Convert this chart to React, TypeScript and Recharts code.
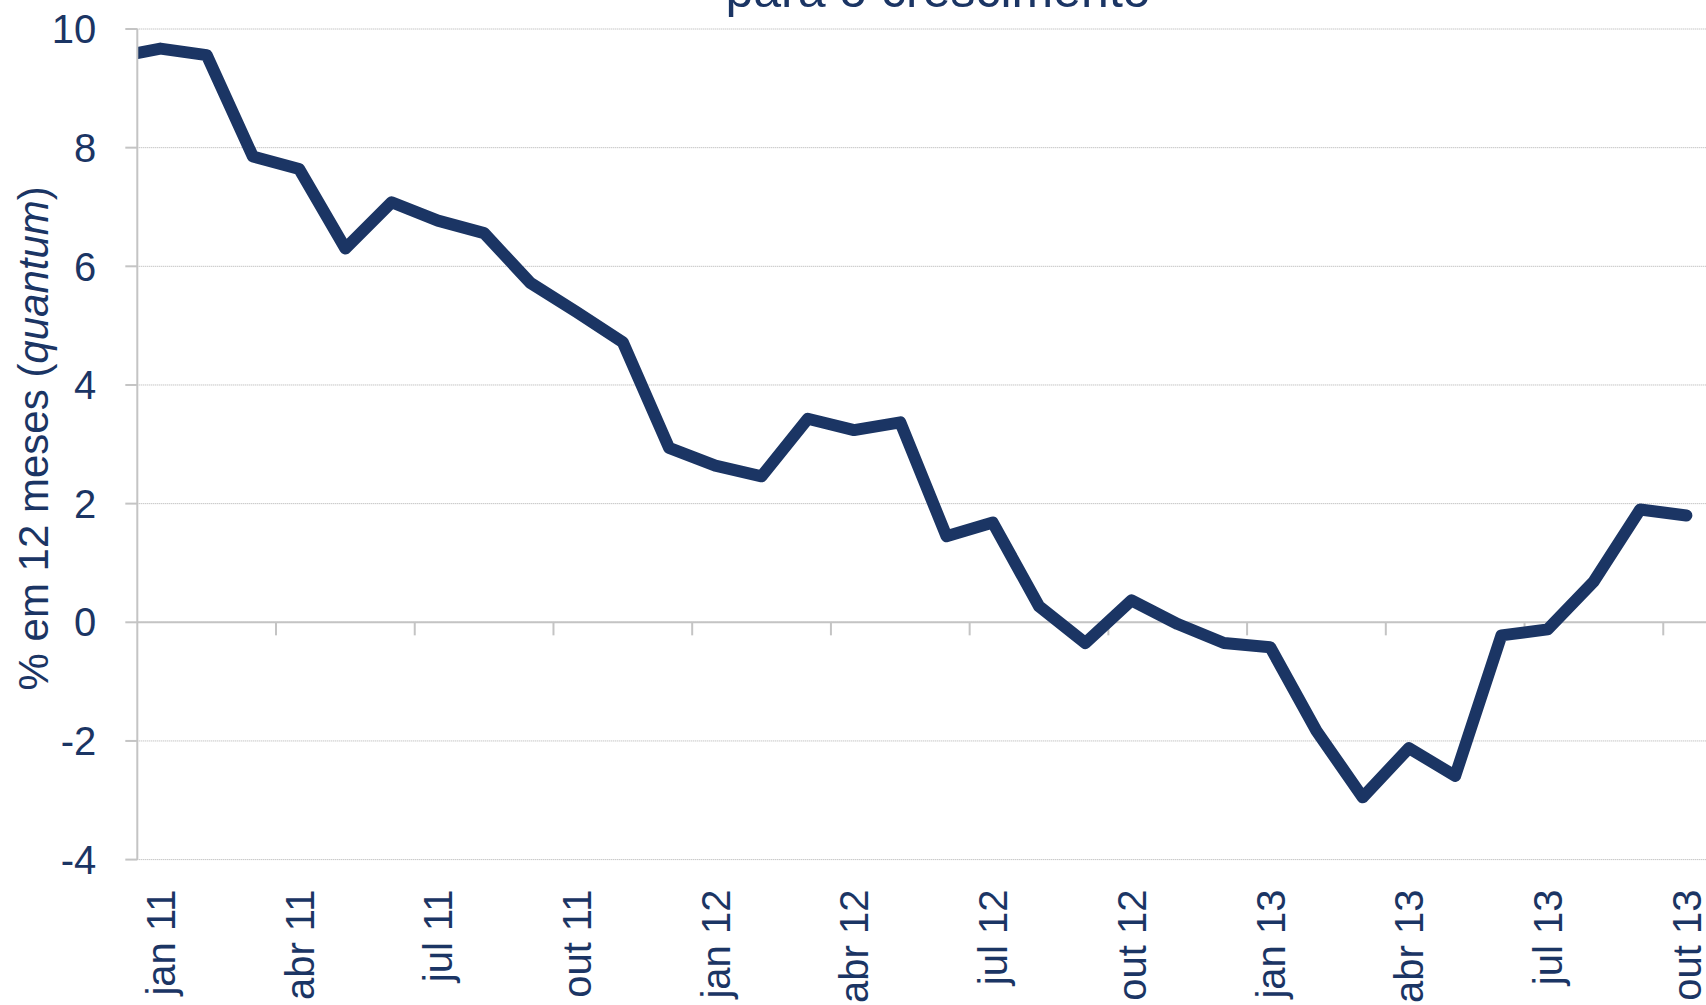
import React from 'react';
import { LineChart, Line, XAxis, YAxis, CartesianGrid, ReferenceLine, Label } from 'recharts';

const months = [
  'dez 10', 'jan 11', 'fev 11', 'mar 11', 'abr 11', 'mai 11', 'jun 11', 'jul 11', 'ago 11', 'set 11', 'out 11', 'nov 11',
  'dez 11', 'jan 12', 'fev 12', 'mar 12', 'abr 12', 'mai 12', 'jun 12', 'jul 12', 'ago 12', 'set 12', 'out 12', 'nov 12',
  'dez 12', 'jan 13', 'fev 13', 'mar 13', 'abr 13', 'mai 13', 'jun 13', 'jul 13', 'ago 13', 'set 13', 'out 13',
];

const values = [
  9.52, 9.67, 9.56, 7.85, 7.64, 6.3, 7.08, 6.77, 6.56, 5.72, 5.23, 4.72,
  2.94, 2.64, 2.46, 3.43, 3.24, 3.37, 1.45, 1.68, 0.27, -0.35, 0.37, -0.03,
  -0.35, -0.42, -1.83, -2.95, -2.12, -2.59, -0.22, -0.12, 0.69, 1.9, 1.8,
];

const xTickLabels = [
  'jan 11', 'abr 11', 'jul 11', 'out 11', 'jan 12', 'abr 12', 'jul 12', 'out 12', 'jan 13', 'abr 13', 'jul 13', 'out 13',
];

const yTicks = [-4, -2, 0, 2, 4, 6, 8, 10];

const titleText = 'para o crescimento';
const yLabelMain = '% em 12 meses (';
const yLabelItalic = 'quantum';
const yLabelEnd = ')';

const NAVY = '#1B3564';
const AXIS_GRAY = '#c4c4c4';
const FONT = '"Liberation Sans", Arial, Helvetica, sans-serif';

const data = months.map((m, i) => ({ pos: i, month: m, value: values[i] }));
const xTickPositions = xTickLabels.map((l) => months.indexOf(l));
const boundaryPositions = xTickPositions.slice(1).map((p) => p - 0.5);
const xDomain = [xTickPositions[0] - 0.5, months.length - 0.5];
const TICK_LEN = 0.22;

const XTick = (props: any) => {
  const { x, y, payload } = props;
  return (
    <text
      transform={`translate(${x},${y}) rotate(-90)`}
      textAnchor="end"
      dy="0.36em"
      fill={NAVY}
      fontSize={40}
      fontFamily={FONT}
    >
      {months[payload.value]}
    </text>
  );
};

const YLabel = (props: any) => {
  const vb = props.viewBox || { x: 0, y: 29, width: 137, height: 831 };
  const cx = vb.x + 33;
  const cy = vb.y + vb.height / 2 - 6;
  return (
    <text
      transform={`translate(${cx},${cy}) rotate(-90)`}
      textAnchor="middle"
      dy="0.36em"
      fill={NAVY}
      fontSize={42}
      fontFamily={FONT}
    >
      {yLabelMain}
      <tspan fontStyle="italic">{yLabelItalic}</tspan>
      {yLabelEnd}
    </text>
  );
};

export default function App() {
  return (
    <div
      style={{
        position: 'fixed',
        left: 0,
        top: 0,
        width: 1706,
        height: 1005,
        overflow: 'hidden',
        background: '#ffffff',
      }}
    >
      <div style={{ position: 'absolute', left: 0, top: 0 }}>
        <LineChart
          width={1709.5}
          height={1005}
          data={data}
          margin={{ top: 29, right: 0, bottom: 0, left: 0 }}
        >
          <CartesianGrid
            horizontal
            vertical={false}
            stroke="#aeaeae"
            strokeDasharray="1 1"
          />
          <XAxis
            dataKey="pos"
            type="number"
            domain={xDomain}
            allowDataOverflow
            ticks={xTickPositions}
            interval={0}
            tick={<XTick />}
            tickLine={false}
            axisLine={false}
            tickSize={0}
            tickMargin={30}
            height={145.4}
          />
          <YAxis
            type="number"
            domain={[-4, 10]}
            ticks={yTicks}
            interval={0}
            width={137.3}
            tickSize={12}
            tickMargin={29}
            axisLine={{ stroke: AXIS_GRAY, strokeWidth: 2 }}
            tickLine={{ stroke: AXIS_GRAY, strokeWidth: 2 }}
            tick={{ fill: NAVY, fontSize: 40, fontFamily: FONT }}
          >
            <Label content={(p: any) => <YLabel {...p} />} />
          </YAxis>
          <ReferenceLine y={0} stroke={AXIS_GRAY} strokeWidth={2} />
          {boundaryPositions.map((b) => (
            <ReferenceLine
              key={b}
              segment={[
                { x: b, y: 0 },
                { x: b, y: -TICK_LEN },
              ]}
              stroke={AXIS_GRAY}
              strokeWidth={2}
            />
          ))}
          <Line
            type="linear"
            dataKey="value"
            stroke={NAVY}
            strokeWidth={12}
            strokeLinejoin="round"
            strokeLinecap="round"
            dot={false}
            activeDot={false}
            isAnimationActive={false}
          />
        </LineChart>
      </div>
      <svg
        width={1706}
        height={60}
        style={{ position: 'absolute', left: 0, top: 0, pointerEvents: 'none' }}
      >
        <text
          x={938}
          y={7}
          textAnchor="middle"
          fill={NAVY}
          fontSize={50}
          fontFamily={FONT}
        >
          {titleText}
        </text>
      </svg>
    </div>
  );
}
